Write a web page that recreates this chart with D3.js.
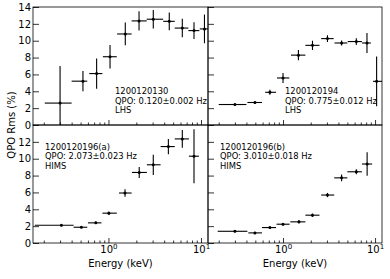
<html>
<head>
<script src="https://d3js.org/d3.v7.min.js"></script>
<style>
    body { margin: 0; background: #fff; }
    text { font-family: "DejaVu Sans", sans-serif; fill: #000; }
    .bar { stroke: #000; stroke-width: 1.1; }
    .tick line { stroke: #000; stroke-width: 0.8; }
</style>
</head>
<body>
<svg width="390" height="279"></svg>
<script>

    // 1200120130 (top left)
    var tlE   = [0.30, 0.53, 0.745, 1.04, 1.52, 2.14, 3.05, 4.54, 6.28, 8.4, 10.9];
    var tlLo  = [0.205, 0.40, 0.62, 0.87, 1.24, 1.78, 2.59, 3.9, 5.2, 7.3, 9.7];
    var tlHi  = [0.40, 0.59, 0.86, 1.23, 1.78, 2.59, 3.9, 5.2, 7.3, 9.6, 12.5];
    var tlRms = [2.6, 5.2, 6.1, 8.1, 10.8, 12.35, 12.55, 12.3, 11.5, 11.2, 11.4];
    var tlErr = [4.4, 1.2, 1.8, 1.4, 1.35, 1.15, 1.1, 1.05, 1.1, 1.0, 1.7];

    // 1200120194 (top right)
    var trE   = [0.30, 0.495, 0.72, 1.0, 1.47, 2.09, 3.04, 4.33, 6.26, 8.17, 10.4];
    var trLo  = [0.20, 0.41, 0.64, 0.86, 1.22, 1.75, 2.6, 3.63, 5.05, 7.2, 9.5];
    var trHi  = [0.40, 0.59, 0.84, 1.17, 1.75, 2.49, 3.55, 5.0, 7.2, 9.0, 12.5];
    var trRms = [2.43, 2.67, 3.88, 5.58, 8.29, 9.45, 10.25, 9.73, 9.9, 9.73, 5.18];
    var trErr = [0.12, 0.15, 0.3, 0.6, 0.6, 0.55, 0.4, 0.3, 0.4, 1.2, 2.95];

    // 1200120196(a) (bottom left)
    var blE   = [0.31, 0.51, 0.73, 1.01, 1.51, 2.15, 3.05, 4.44, 6.28, 8.4];
    var blLo  = [0.16, 0.42, 0.60, 0.86, 1.30, 1.79, 2.6, 3.66, 5.2, 7.4];
    var blHi  = [0.42, 0.59, 0.84, 1.23, 1.78, 2.6, 3.66, 5.2, 7.4, 9.5];
    var blRms = [2.1, 1.87, 2.39, 3.54, 5.93, 8.37, 9.28, 11.44, 12.35, 10.3];
    var blErr = [0.1, 0.1, 0.15, 0.2, 0.45, 0.65, 1.2, 0.9, 1.05, 3.2];

    // 1200120196(b) (bottom right)
    var brE   = [0.30, 0.495, 0.72, 1.0, 1.49, 2.09, 3.04, 4.33, 6.26, 8.2];
    var brLo  = [0.195, 0.42, 0.59, 0.85, 1.2, 1.75, 2.6, 3.6, 5.0, 7.2];
    var brHi  = [0.41, 0.59, 0.84, 1.18, 1.75, 2.49, 3.6, 5.0, 7.2, 9.3];
    var brRms = [1.39, 1.2, 1.83, 2.23, 2.51, 3.3, 5.69, 7.73, 8.45, 9.37];
    var brErr = [0.12, 0.12, 0.12, 0.15, 0.2, 0.2, 0.25, 0.4, 0.3, 1.4];

    var labels = [
        ["1200120130", "QPO: 0.120\u00b10.002 Hz", "LHS"],
        ["1200120194", "QPO: 0.775\u00b10.012 Hz", "LHS"],
        ["1200120196(a)", "QPO: 2.073\u00b10.023 Hz", "HIMS"],
        ["1200120196(b)", "QPO: 3.010\u00b10.018 Hz", "HIMS"]
    ];

    var xDomain = [0.153, 11.9];
    var yTopTicks = [0, 2, 4, 6, 8, 10, 12, 14];
    var yBotTicks = [0, 2, 4, 6, 8, 10, 12];
    var xMajor = [1, 10];
    var xMinor = [0.2, 0.3, 0.4, 0.5, 0.6, 0.7, 0.8, 0.9, 2, 3, 4, 5, 6, 7, 8, 9];

    var svg = d3.select("svg");
    var L = 33, M = 208, R = 382, T = 7, MY = 125, B = 243;

    var cols = [[L, M], [M, R]];
    var rows = [[MY, T], [B, MY]];

    var panels = [
        {e: tlE, lo: tlLo, hi: tlHi, v: tlRms, err: tlErr, c: 0, r: 0, tx: 115, ty: 94},
        {e: trE, lo: trLo, hi: trHi, v: trRms, err: trErr, c: 1, r: 0, tx: 285, ty: 94},
        {e: blE, lo: blLo, hi: blHi, v: blRms, err: blErr, c: 0, r: 1, tx: 45, ty: 149.5},
        {e: brE, lo: brLo, hi: brHi, v: brRms, err: brErr, c: 1, r: 1, tx: 220, ty: 149.5}
    ];

    panels.forEach(function(p, i) {
        var x = d3.scaleLog().domain(xDomain).range(cols[p.c]);
        var y = d3.scaleLinear().domain([0, 14]).range(rows[p.r]);
        var x0 = cols[p.c][0], x1 = cols[p.c][1], y0 = rows[p.r][1], y1 = rows[p.r][0];

        svg.append("clipPath").attr("id", "clip" + i)
            .append("rect").attr("x", x0).attr("y", y0)
            .attr("width", x1 - x0).attr("height", y1 - y0);

        // x ticks (inward)
        var xa = svg.append("g").attr("transform", "translate(0," + y1 + ")");
        xa.append("g").call(d3.axisBottom(x).tickValues(xMinor).tickSize(-2.5).tickFormat(""))
            .select(".domain").remove();
        var xm = xa.append("g").call(d3.axisBottom(x).tickValues(xMajor).tickSize(-5).tickPadding(3));
        xm.select(".domain").remove();
        xm.selectAll(".tick text").text(null).attr("font-size", 10);
        if (p.r == 1) {
            xm.selectAll(".tick text").each(function(d) {
                var t = d3.select(this);
                t.append("tspan").text("10");
                t.append("tspan").attr("dy", -4).attr("font-size", 7).text(Math.round(Math.log10(d)));
            });
        }

        // y ticks (inward)
        var ya = svg.append("g").attr("transform", "translate(" + x0 + ",0)")
            .call(d3.axisLeft(y).tickValues(p.r == 0 ? yTopTicks : yBotTicks).tickSize(-6).tickPadding(2));
        ya.select(".domain").remove();
        ya.selectAll(".tick text").attr("font-size", 10);
        if (p.c == 1) ya.selectAll(".tick text").remove();

        // error bars
        var g = svg.append("g").attr("clip-path", "url(#clip" + i + ")");
        var idx = d3.range(p.e.length);
        g.selectAll(".hb").data(idx).enter().append("line").attr("class", "bar")
            .attr("x1", function(k) { return x(p.lo[k]); })
            .attr("x2", function(k) { return x(p.hi[k]); })
            .attr("y1", function(k) { return y(p.v[k]); })
            .attr("y2", function(k) { return y(p.v[k]); });
        g.selectAll(".vb").data(idx).enter().append("line").attr("class", "bar")
            .attr("x1", function(k) { return x(p.e[k]); })
            .attr("x2", function(k) { return x(p.e[k]); })
            .attr("y1", function(k) { return y(p.v[k] - p.err[k]); })
            .attr("y2", function(k) { return y(p.v[k] + p.err[k]); });
        g.selectAll("circle").data(idx).enter().append("circle")
            .attr("cx", function(k) { return x(p.e[k]); })
            .attr("cy", function(k) { return y(p.v[k]); })
            .attr("r", 1.5).attr("fill", "#000");

        // panel frame
        svg.append("rect").attr("x", x0).attr("y", y0)
            .attr("width", x1 - x0).attr("height", y1 - y0)
            .attr("fill", "none").attr("stroke", "#000").attr("stroke-width", 0.8);

        // annotation
        var tt = svg.append("text").attr("font-size", 8.4);
        labels[i].forEach(function(s, j) {
            tt.append("tspan").attr("x", p.tx).attr("y", p.ty + j * 9.5).text(s);
        });

        if (p.r == 1) {
            svg.append("text").attr("x", (x0 + x1) / 2).attr("y", 266.5)
                .attr("text-anchor", "middle").attr("font-size", 10).text("Energy (keV)");
        }
    });

    svg.append("text")
        .attr("transform", "translate(14.5,125) rotate(-90)")
        .attr("text-anchor", "middle").attr("font-size", 10)
        .text("QPO Rms (%)");

</script>
</body>
</html>
